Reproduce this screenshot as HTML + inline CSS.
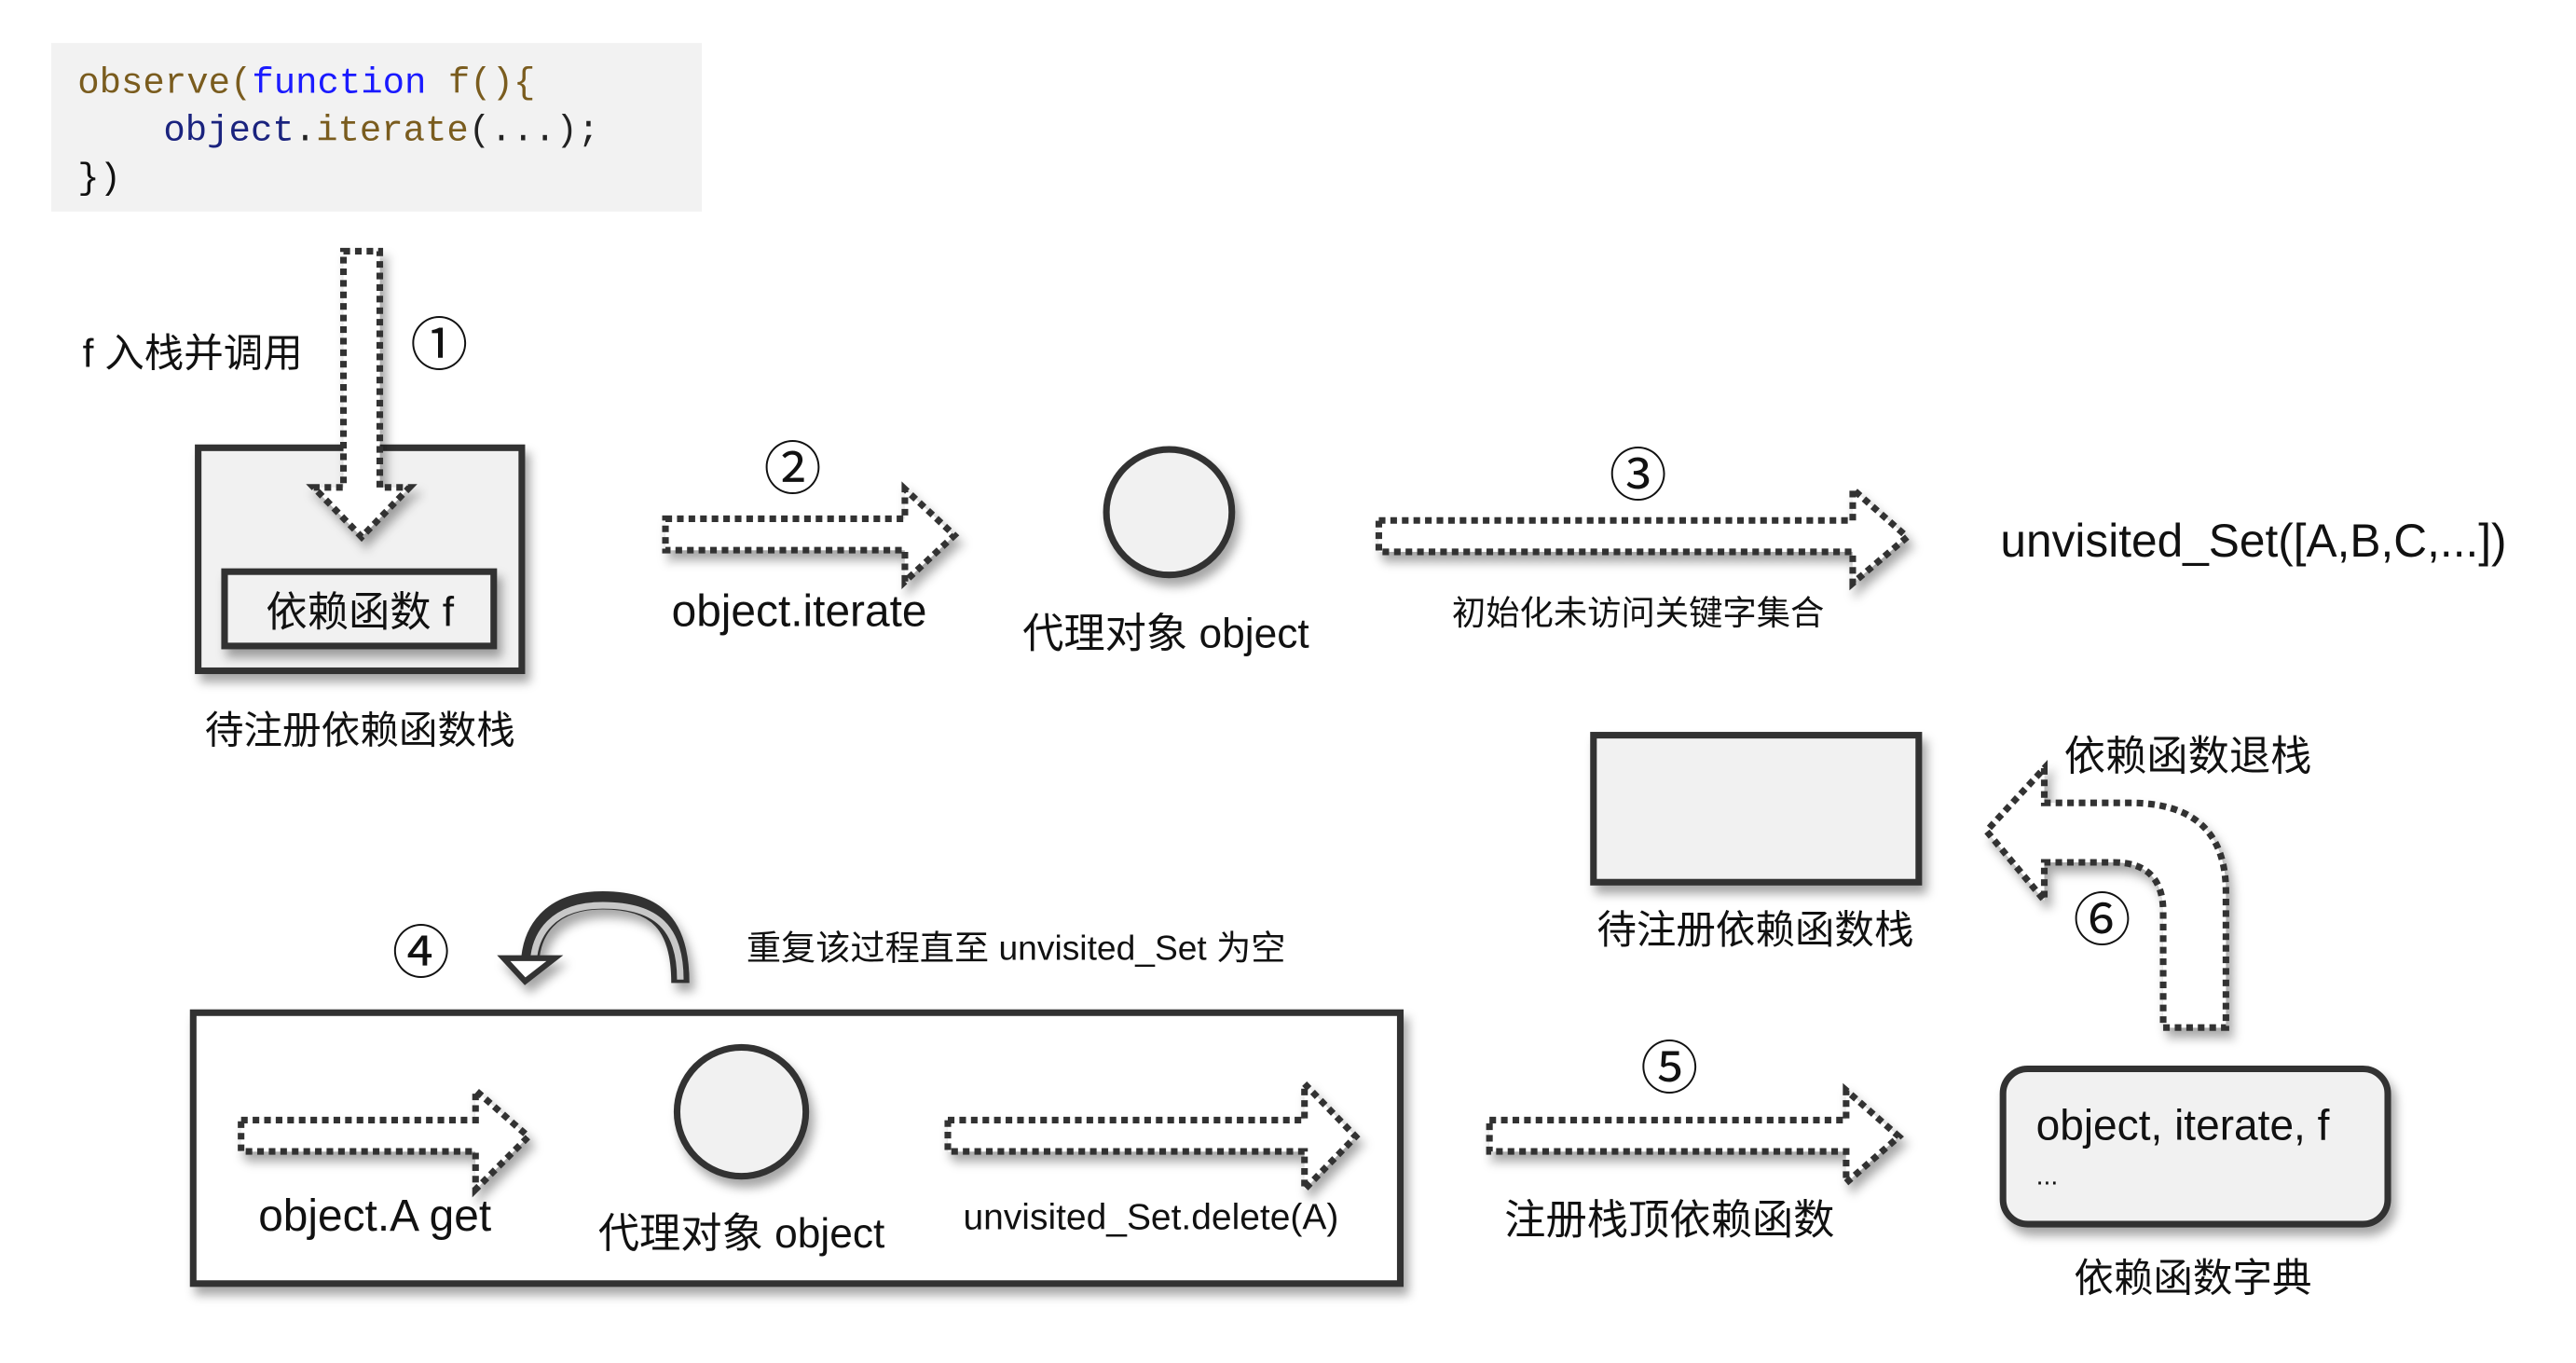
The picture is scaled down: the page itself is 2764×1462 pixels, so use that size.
<!DOCTYPE html>
<html><head><meta charset="utf-8"><style>
html,body{margin:0;padding:0;background:#fff;}
svg{display:block;}
text{font-family:"Liberation Sans","Noto Sans CJK SC",sans-serif;fill:#111;}
.mono{font-family:"Liberation Mono","DejaVu Sans Mono",monospace;}
.da{fill:#fff;stroke:#333;stroke-width:4;stroke-dasharray:4 3;filter:url(#sh);}
.bx{fill:#f1f1f1;stroke:#333;stroke-width:4;filter:url(#sh);}
.num{font-size:35px;}
</style></head><body>
<svg width="2764" height="1462" viewBox="0 0 1560 825" xmlns="http://www.w3.org/2000/svg">
<defs><filter id="sh" x="-20%" y="-20%" width="140%" height="150%"><feDropShadow dx="3" dy="5" stdDeviation="3" flood-color="#000" flood-opacity="0.35"/></filter></defs>

<rect x="31" y="26" width="394" height="102" fill="#f2f2f2"/>
<text class="mono" font-size="22" x="47" y="56"><tspan fill="#7a5c1e">observe(</tspan><tspan fill="#1a1aff">function</tspan><tspan fill="#7a5c1e"> f(){</tspan></text>
<text class="mono" font-size="22" x="99" y="85"><tspan fill="#1a237e">object</tspan><tspan fill="#222">.</tspan><tspan fill="#7a5c1e">iterate</tspan><tspan fill="#222">(...);</tspan></text>
<text class="mono" font-size="22" x="47" y="114" fill="#222">})</text>

<rect class="bx" x="120" y="271" width="196" height="135"/>
<rect class="bx" x="136" y="346" width="163" height="45"/>
<text font-size="25" x="218" y="379" text-anchor="middle">依赖函数 f</text>
<text font-size="23.5" x="218" y="450" text-anchor="middle">待注册依赖函数栈</text>

<polygon class="da" points="208,152 230,152 230,295 248,295 219,325 190,295 208,295"/>
<text font-size="24" x="50" y="222">f 入栈并调用</text>
<text class="num" x="266" y="221" text-anchor="middle">①</text>

<polygon class="da" points="403,314 548,314 548,296 578,324 548,352 548,333 403,333"/>
<text class="num" x="480" y="296" text-anchor="middle">②</text>
<text font-size="27" x="484" y="379" text-anchor="middle">object.iterate</text>

<circle cx="708" cy="310" r="38" fill="#f1f1f1" stroke="#333" stroke-width="4" filter="url(#sh)"/>
<text font-size="25" x="706" y="392" text-anchor="middle">代理对象 object</text>

<polygon class="da" points="835,315 1122,315 1122,296 1155,325 1122,353 1122,334 835,334"/>
<text class="num" x="992" y="300" text-anchor="middle">③</text>
<text font-size="20.5" x="992" y="378" text-anchor="middle">初始化未访问关键字集合</text>
<text font-size="28" x="1518" y="337" text-anchor="end">unvisited_Set([A,B,C,...])</text>

<rect class="bx" x="965" y="445" width="197" height="89"/>
<text font-size="24" x="1063" y="571" text-anchor="middle">待注册依赖函数栈</text>

<path class="da" d="M1310,622 L1348,622 L1348,540 Q1348,486 1290,486 L1238,486 L1238,465 L1203,503 L1238,545 L1238,522 L1280,522 Q1310,522 1310,552 Z"/>
<text font-size="25" x="1250" y="466">依赖函数退栈</text>
<text class="num" x="1273" y="569" text-anchor="middle">⑥</text>

<rect class="bx" x="1213" y="647" width="233" height="94" rx="15"/>
<text font-size="26" x="1233" y="690">object, iterate, f</text>
<text font-size="16" x="1233" y="717">...</text>
<text font-size="24" x="1328" y="782" text-anchor="middle">依赖函数字典</text>

<polygon class="da" points="902,678 1118,678 1118,660 1150,688 1118,716 1118,697 902,697"/>
<text class="num" x="1011" y="659" text-anchor="middle">⑤</text>
<text font-size="25" x="1011" y="747" text-anchor="middle">注册栈顶依赖函数</text>

<rect class="bx" x="117" y="613" width="731" height="164" style="fill:#fff"/>
<polygon class="da" points="146,678 288,678 288,660 320,688 288,720 288,697 146,697"/>
<text font-size="27" x="227" y="745" text-anchor="middle">object.A get</text>
<ellipse cx="449" cy="673" rx="39" ry="39" fill="#f1f1f1" stroke="#333" stroke-width="4" filter="url(#sh)"/>
<text font-size="25" x="449" y="755" text-anchor="middle">代理对象 object</text>
<polygon class="da" points="574,678 790,678 790,656 821,688 790,720 790,697 574,697"/>
<text font-size="22" x="697" y="744" text-anchor="middle">unvisited_Set.delete(A)</text>

<text class="num" x="255" y="589" text-anchor="middle">④</text>
<g filter="url(#sh)">
<path d="M412,595 C412,560 398,545 365,545 C332,545 322,565 321,582" fill="none" stroke="#333" stroke-width="11"/>
<path d="M412,593 C412,562 398,548 365,548 C334,548 324,566 323,582" fill="none" stroke="#c8c8c8" stroke-width="4"/>
<polygon points="305,580 336,580 318,594" fill="#fff" stroke="#333" stroke-width="3.5"/>
</g>
<text font-size="21" x="452" y="581">重复该过程直至 unvisited_Set 为空</text>
</svg>
</body></html>
